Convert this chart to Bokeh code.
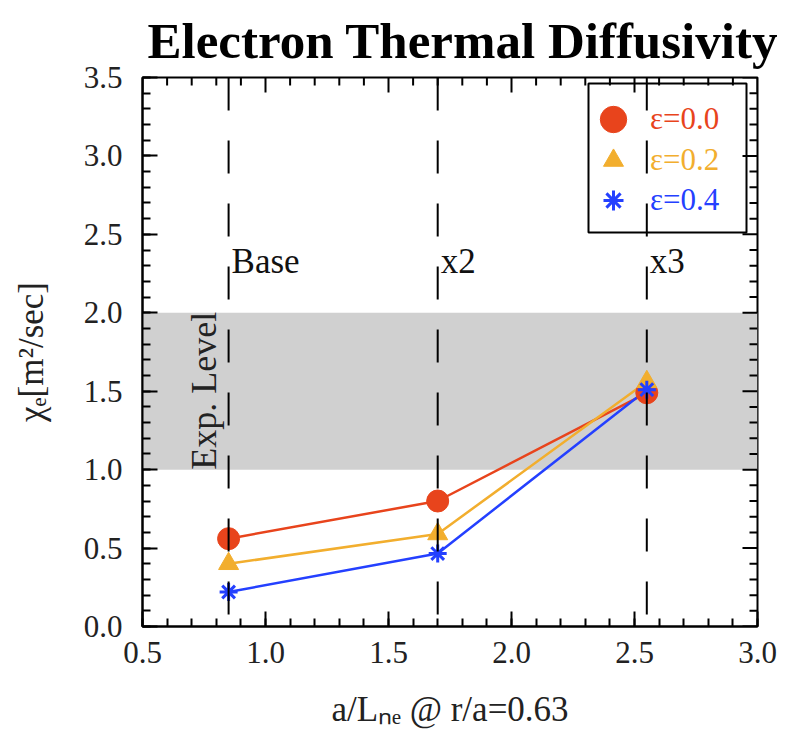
import numpy as np
from bokeh.plotting import figure
from bokeh.models import (Range1d, LinearAxis, SingleIntervalTicker, PrintfTickFormatter,
                          Span, BoxAnnotation, Legend, LegendItem)
from bokeh.core.properties import value
from bokeh.embed import file_html
from bokeh.resources import INLINE

# density-gradient scan points, a/L_ne at r/a = 0.63
a_over_lne = [0.85, 1.7, 2.55]
scan_labels = ["Base", "x2", "x3"]

# electron thermal diffusivity chi_e [m^2/sec] for each epsilon
chi_eps00 = [0.56, 0.80, 1.49]
chi_eps02 = [0.40, 0.59, 1.56]
chi_eps04 = [0.22, 0.465, 1.51]
series = [chi_eps00, chi_eps02, chi_eps04]
eps_labels = ["ε=0.0", "ε=0.2", "ε=0.4"]
eps_colors = ["#E8441C", "#F2AE2E", "#2440FF"]
eps_markers = ["circle", "triangle", "asterisk"]
marker_sizes = [22, 20, 18]

# experimental range of chi_e
exp_low, exp_high = 1.0, 2.0

X_MIN, X_MAX = 0.5, 3.0
Y_MIN, Y_MAX = 0.0, 3.5
SERIF = "Liberation Serif"

p = figure(width=792, height=734, output_backend="svg", toolbar_location=None,
           x_range=Range1d(X_MIN, X_MAX), y_range=Range1d(Y_MIN, Y_MAX),
           x_axis_type=None, y_axis_type=None,
           min_border_left=142, min_border_right=35, min_border_top=77, min_border_bottom=108)
p.grid.visible = False
p.outline_line_color = "black"
p.outline_line_width = 2
p.background_fill_color = "white"
p.border_fill_color = "white"

p.title.text = "Electron Thermal Diffusivity"
p.title.text_font = SERIF
p.title.text_font_size = "51px"
p.title.text_font_style = "bold"
p.title.text_color = "black"
p.title.align = "left"
p.title.offset = 5
p.title.standoff = 18


def make_axis(ticker):
    ax = LinearAxis(ticker=ticker)
    ax.axis_line_width = 2
    ax.major_tick_line_width = 2
    ax.minor_tick_line_width = 2
    ax.major_tick_in = 15
    ax.major_tick_out = 0
    ax.minor_tick_in = 8
    ax.minor_tick_out = 0
    ax.formatter = PrintfTickFormatter(format="%.1f")
    ax.major_label_text_font = SERIF
    ax.major_label_text_font_size = "31px"
    ax.major_label_text_color = "#222222"
    ax.axis_label_text_font = SERIF
    ax.axis_label_text_font_style = "normal"
    ax.axis_label_text_color = "#222222"
    return ax


xt = SingleIntervalTicker(interval=0.5, num_minor_ticks=5)
yt = SingleIntervalTicker(interval=0.5, num_minor_ticks=5)

xb = make_axis(xt)
xb.axis_label = "a/Lₙₑ @ r/a=0.63"
xb.axis_label_text_font_size = "35px"
xb.major_label_standoff = 15
xb.axis_label_standoff = 24
p.add_layout(xb, "below")

yl = make_axis(yt)
yl.axis_label = "χₑ[m²/sec]"
yl.axis_label_text_font_size = "35px"
yl.major_label_standoff = 20
yl.axis_label_standoff = 30
p.add_layout(yl, "left")

# inward ticks on the top and right edges of the frame
minor_x = np.round(np.arange(X_MIN, X_MAX + 1e-9, 0.1), 2)
minor_y = np.round(np.arange(Y_MIN, Y_MAX + 1e-9, 0.1), 2)
is_major_x = np.isclose((minor_x * 2) % 1, 0) | np.isclose((minor_x * 2) % 1, 1)
is_major_y = np.isclose((minor_y * 2) % 1, 0) | np.isclose((minor_y * 2) % 1, 1)
p.ray(x=minor_x, y=Y_MAX, length=np.where(is_major_x, 15, 8), length_units="screen",
      angle=-np.pi / 2, line_color="black", line_width=2)
p.ray(x=X_MAX, y=minor_y, length=np.where(is_major_y, 15, 8), length_units="screen",
      angle=np.pi, line_color="black", line_width=2)

# experimental band
p.add_layout(BoxAnnotation(bottom=exp_low, top=exp_high, fill_color="#D0D0D0",
                           fill_alpha=1.0, line_alpha=0, level="underlay"))
p.text(x=[0.752], y=[exp_low], text=["Exp. Level"], angle=np.pi / 2,
       text_align="left", text_baseline="middle", text_font=value(SERIF),
       text_font_size="36px", text_color="#222222")

# scan positions
for xv in a_over_lne:
    p.add_layout(Span(location=xv, dimension="height", line_color="black",
                      line_width=2, line_dash="33 30"))
p.text(x=a_over_lne, y=[2.33] * 3, text=scan_labels, x_offset=3,
       text_align="left", text_baseline="middle", text_font=value(SERIF),
       text_font_size="35px", text_color="#111111")

# series
marker_renderers = []
for vals, col in zip(series, eps_colors):
    p.line(a_over_lne, vals, line_color=col, line_width=2.5)
for vals, col, mk, sz in zip(series, eps_colors, eps_markers, marker_sizes):
    r = p.scatter(a_over_lne, vals, marker=mk, size=sz, fill_color=col,
                  line_color=col, line_width=3 if mk == "asterisk" else 1)
    marker_renderers.append(r)

# legend: one entry per series so each label keeps its colour
legend_glyph = [66, 50, 50]
row_centers = [507, 466, 426]
glyph_cx = 471
text_x = 508
for i, r in enumerate(marker_renderers):
    g = legend_glyph[i]
    leg = Legend(items=[LegendItem(label=eps_labels[i], renderers=[r])],
                 location=(glyph_cx - g / 2, row_centers[i] - g / 2),
                 glyph_width=g, glyph_height=g, padding=0, margin=0, spacing=0,
                 label_standoff=int(text_x - (glyph_cx + g / 2)),
                 label_text_color=eps_colors[i], label_text_font=SERIF,
                 label_text_font_size="31px",
                 border_line_alpha=0, background_fill_alpha=0)
    p.add_layout(leg)

p.add_layout(BoxAnnotation(left=446, right=604, bottom=394, top=543,
                           left_units="screen", right_units="screen",
                           bottom_units="screen", top_units="screen",
                           fill_alpha=0, line_color="black", line_alpha=1.0,
                           line_width=2))

open("out.html", "w").write(file_html(p, INLINE))
